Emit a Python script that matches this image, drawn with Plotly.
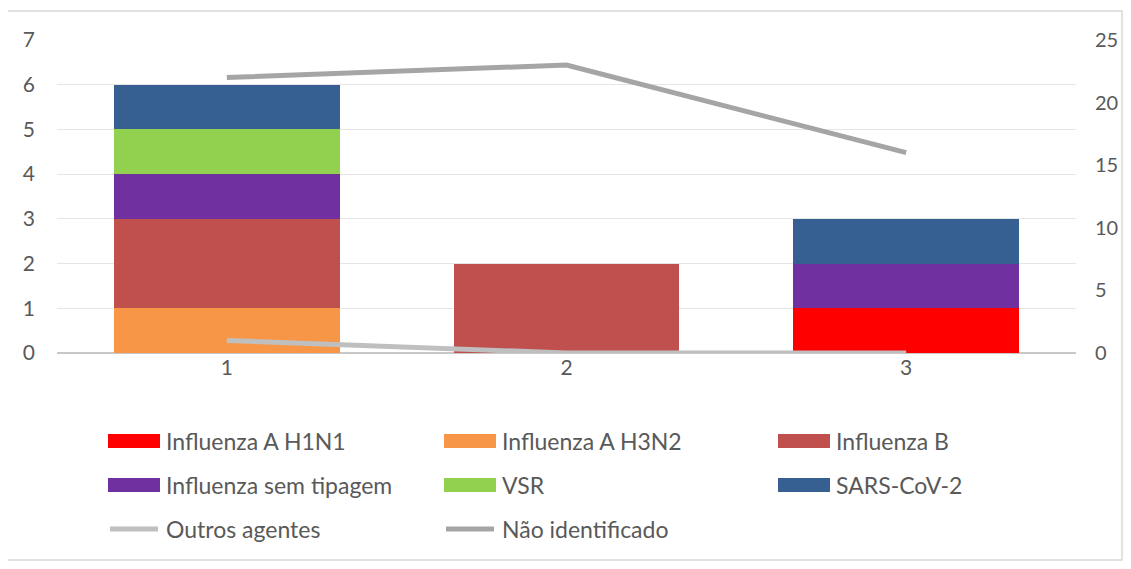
import plotly.graph_objects as go

categories = [1, 2, 3]
h1n1 = [0, 0, 1]
h3n2 = [1, 0, 0]
flu_b = [2, 2, 0]
sem_tipagem = [1, 0, 1]
vsr = [1, 0, 0]
sars = [1, 0, 1]
outros = [1, 0, 0]
nao_ident = [22, 23, 16]

bar_series = [
    ("Influenza A H1N1", h1n1, "#FF0000"),
    ("Influenza A H3N2", h3n2, "#F79646"),
    ("Influenza B", flu_b, "#C0504D"),
    ("Influenza sem tipagem", sem_tipagem, "#7030A0"),
    ("VSR", vsr, "#92D050"),
    ("SARS-CoV-2", sars, "#376092"),
]
line_series = [
    ("Outros agentes", outros, "#BFBFBF"),
    ("Não identificado", nao_ident, "#A5A5A5"),
]

OFF = 8  # page body margin
W, H = 1131 - 2 * OFF, 569 - 2 * OFF
# target pixel positions in the browser window
L, R, T, B = 57, 1076, 40, 353
FONT = "Lato"
TXT = "#595959"

fig = go.Figure()
for name, vals, col in bar_series:
    fig.add_trace(go.Bar(x=categories, y=vals, name=name, marker=dict(color=col, line=dict(width=0)),
                         showlegend=False))
for name, vals, col in line_series:
    fig.add_trace(go.Scatter(x=categories, y=vals, name=name, yaxis="y2", mode="lines",
                             line=dict(color=col, width=5), showlegend=False))

def px(x):
    return (x - L) / (R - L)

def py(y):
    return (B - y) / (B - T)

shapes = []
annotations = []
# outer border
shapes.append(dict(type="rect", xref="paper", yref="paper", x0=px(6), x1=px(1122), y0=py(11), y1=py(560),
                   line=dict(color="#D9D9D9", width=1.5), fillcolor="rgba(0,0,0,0)", layer="below"))

# manual legend
items = [(n, c, "bar") for n, _, c in bar_series] + [(n, c, "line") for n, _, c in line_series]
col_x = [108, 444, 778]
row_y = [441, 485, 529]
for i, (name, col, kind) in enumerate(items):
    cx = col_x[i % 3]
    ry = row_y[i // 3]
    if kind == "bar":
        shapes.append(dict(type="rect", xref="paper", yref="paper", x0=px(cx), x1=px(cx + 52),
                           y0=py(ry - 7), y1=py(ry + 7), fillcolor=col, line=dict(width=0)))
    else:
        shapes.append(dict(type="line", xref="paper", yref="paper", x0=px(cx + 2), x1=px(cx + 50),
                           y0=py(ry), y1=py(ry), line=dict(color=col, width=5)))
    annotations.append(dict(xref="paper", yref="paper", x=px(cx + 56), y=py(ry), text=name,
                            showarrow=False, xanchor="left", yanchor="middle",
                            font=dict(family=FONT, size=23, color=TXT)))

fig.update_layout(
    width=W, height=H,
    margin=dict(l=L - OFF, r=W + OFF - R, t=T - OFF, b=H + OFF - B, autoexpand=False),
    paper_bgcolor="white", plot_bgcolor="white",
    barmode="stack", bargap=0.335,
    showlegend=False,
    font=dict(family=FONT, size=21, color=TXT),
    xaxis=dict(range=[0.5, 3.5], tickvals=categories, ticktext=[str(c) for c in categories],
               showgrid=False, zeroline=False, showline=False, ticks="", automargin=False,
               tickfont=dict(family=FONT, size=21, color=TXT)),
    yaxis=dict(range=[0, 7], dtick=1, showgrid=True, gridcolor="#E6E6E6", gridwidth=1.3,
               zeroline=True, zerolinecolor="#C8C8C8", zerolinewidth=1.5, ticks="",
               automargin=False,
               ticklabelstandoff=21, tickfont=dict(family=FONT, size=21, color=TXT)),
    yaxis2=dict(range=[0, 25], dtick=5, overlaying="y", side="right", showgrid=False,
                zeroline=False, ticks="", ticklabelstandoff=18, automargin=False,
                tickfont=dict(family=FONT, size=20, color=TXT)),
    shapes=shapes, annotations=annotations,
)

fig.write_html("out.html")
